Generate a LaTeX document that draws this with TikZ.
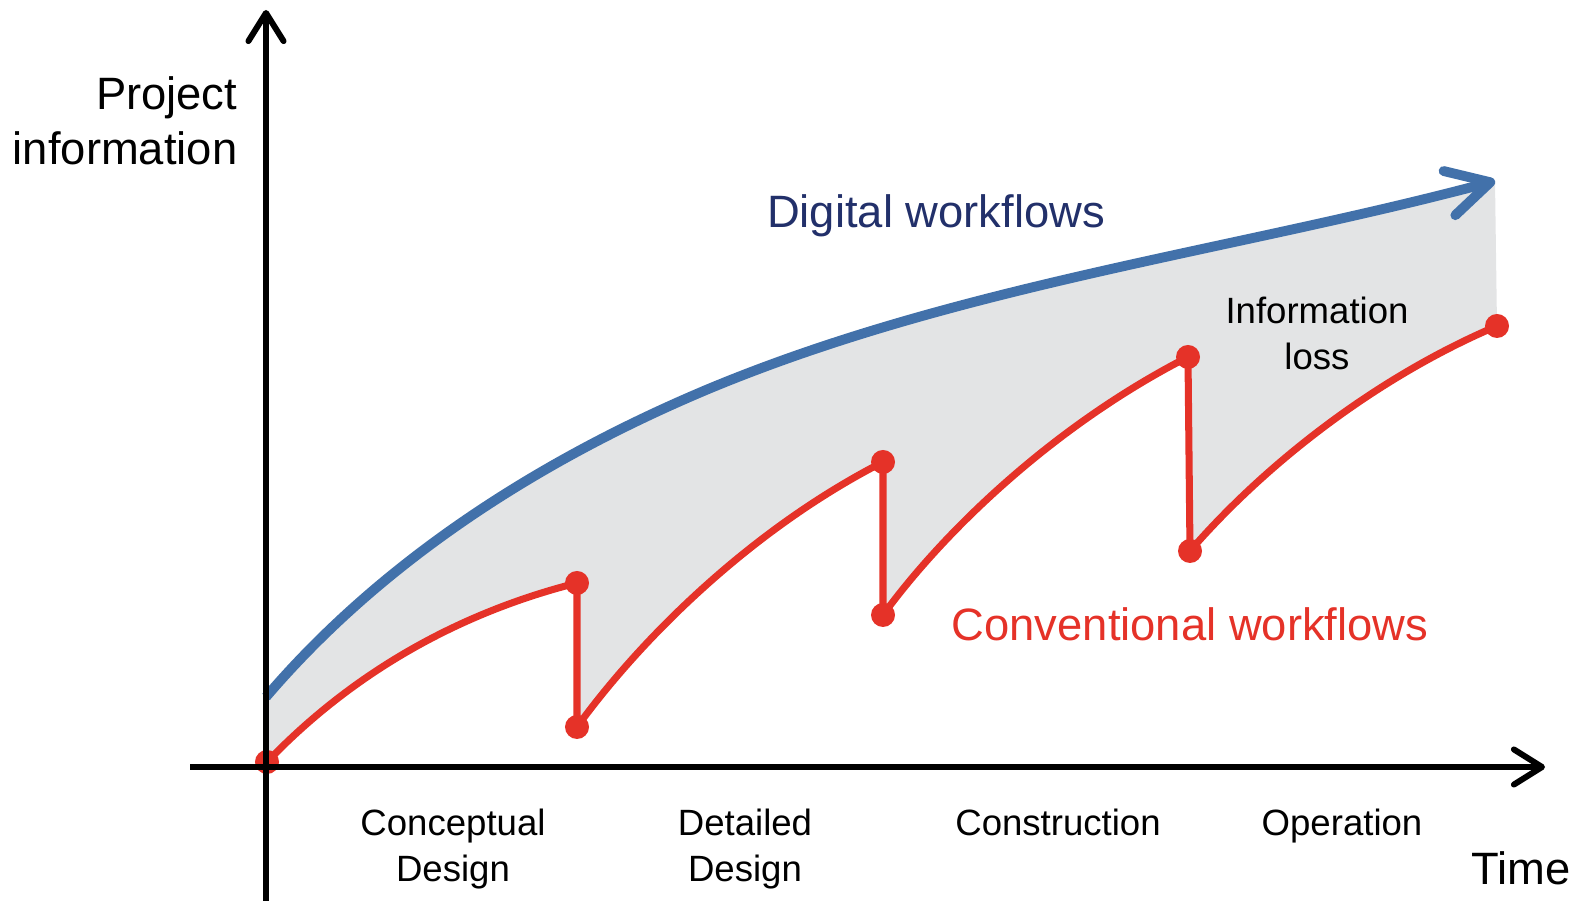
\documentclass[tikz,border=0pt]{standalone}
\usepackage{fontspec}
\setmainfont{Liberation Sans}
\usetikzlibrary{arrows.meta,backgrounds}
\definecolor{digiblue}{HTML}{4271AA}
\definecolor{digitext}{HTML}{22306A}
\definecolor{convred}{HTML}{E53228}
\definecolor{lossgray}{HTML}{E3E4E5}

\begin{document}
\begin{tikzpicture}[x=0.01cm,y=-0.01cm,every node/.style={inner sep=0},
  axis/.style={line width=1.7pt,-{Straight Barb[length=8pt,width=10pt,round]}},
  dot/.style={circle,fill=convred,minimum size=0.24cm},
  conv/.style={convred,line width=2pt},
  big/.style={font=\fontsize{12.9}{15.6}\selectfont},
  phase/.style={font=\fontsize{10.4}{13.2}\selectfont,align=center,anchor=north}]
\useasboundingbox (0,0) rectangle (1572,901);

% digital workflow points
\coordinate (d0) at (266,697);
\coordinate (dm) at (706,390);
\coordinate (d1) at (1495,181);

% conventional workflow points
\node[dot] (c0) at (267,762) {};
\node[dot] (c1) at (577,583) {};
\node[dot] (c2) at (577,727) {};
\node[dot] (c3) at (883,462) {};
\node[dot] (c4) at (883,615) {};
\node[dot] (c5) at (1188,357) {};
\node[dot] (c6) at (1190,551) {};
\node[dot] (c7) at (1497,326) {};

\draw[conv] (c0.center) .. controls (360,665) and (470,610) .. (c1.center)
  -- (c2.center) .. controls (640,640) and (750,530) .. (c3.center)
  -- (c4.center) .. controls (945,530) and (1055,425) .. (c5.center)
  -- (c6.center) .. controls (1260,470) and (1370,380) .. (c7.center);

\draw[digiblue,line width=2.8pt,-{Straight Barb[length=12pt,width=13pt,round]}]
  (d0) .. controls (383,560) and (540,460) .. (dm)
  .. controls (957,285) and (1232,251) .. (d1);

\begin{scope}[on background layer]
\fill[lossgray] (d0) .. controls (383,560) and (540,460) .. (dm)
  .. controls (957,285) and (1232,251) .. (d1)
  -- (c7.center) .. controls (1370,380) and (1260,470) .. (c6.center)
  -- (c5.center) .. controls (1055,425) and (945,530) .. (c4.center)
  -- (c3.center) .. controls (750,530) and (640,640) .. (c2.center)
  -- (c1.center) .. controls (470,610) and (360,665) .. (c0.center) -- cycle;
\end{scope}

% axes
\coordinate (xs) at (190,767);
\coordinate (xe) at (1545,767);
\coordinate (ys) at (266,901);
\coordinate (ye) at (266,10);
\draw[axis] (xs) -- (xe);
\draw[axis] (ys) -- (ye);

% labels
\node[big,align=right,anchor=north east] (yl) at (238,76) {Project\\information};
\node[big,anchor=base west] (xl) at (1471,885) {Time};
\node[big,text=digitext,anchor=base] (dl) at (936,228) {Digital workflows};
\node[big,text=convred,anchor=base] (cl) at (1190,641) {Conventional workflows};
\node[phase] (loss) at (1317,296) {Information\\loss};

\node[phase] (p1) at (453,808) {Conceptual\\Design};
\node[phase] (p2) at (745,808) {Detailed\\Design};
\node[phase] (p3) at (1058,808) {Construction};
\node[phase] (p4) at (1342,808) {Operation};
\end{tikzpicture}
\end{document}
